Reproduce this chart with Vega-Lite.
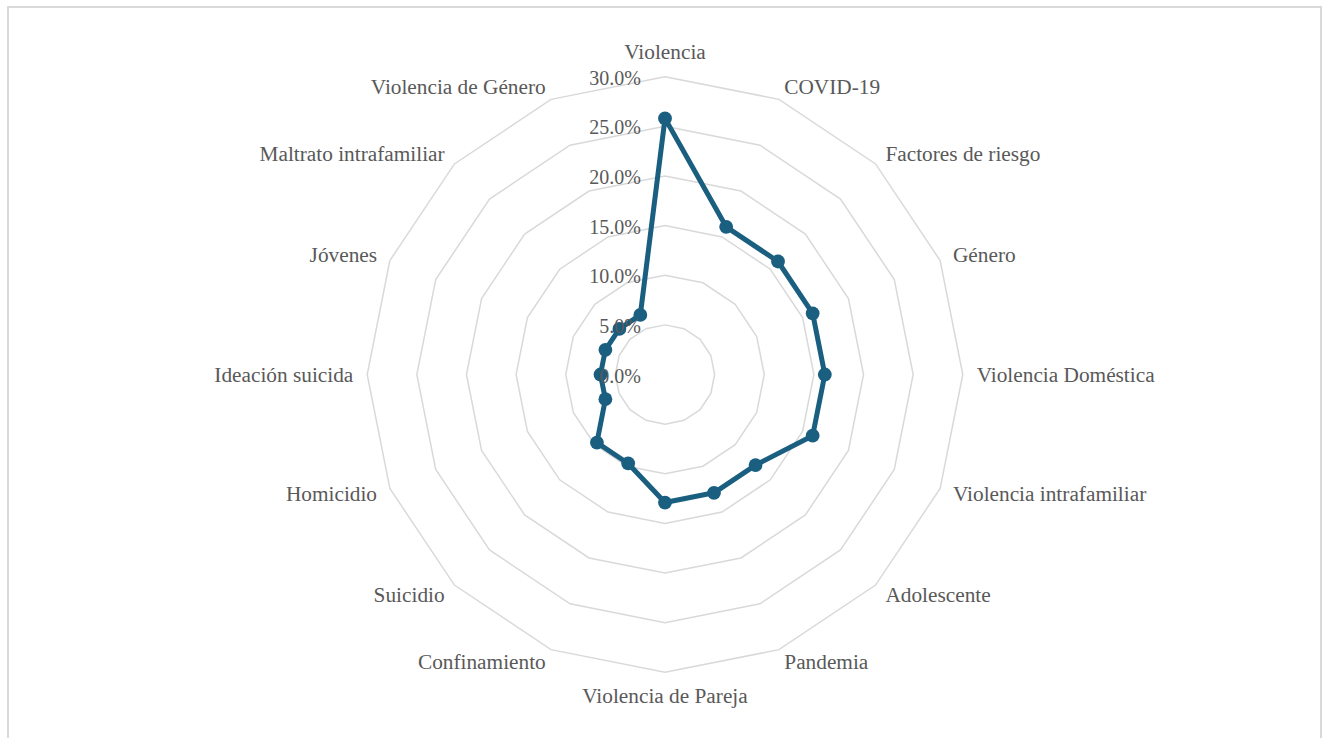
{
  "$schema": "https://vega.github.io/schema/vega-lite/v6.json",
  "width": 1313,
  "height": 733,
  "autosize": {"type": "none"},
  "padding": {"left": 8, "top": 7, "right": 2, "bottom": -2},
  "background": "white",
  "config": {"view": {"stroke": "#d9d9d9", "strokeWidth": 2}},
  "datasets": {
    "cats": [
      {"category": "Violencia", "value": 0.258},
      {"category": "COVID-19", "value": 0.161},
      {"category": "Factores de riesgo", "value": 0.161},
      {"category": "Género", "value": 0.161},
      {"category": "Violencia Doméstica", "value": 0.161},
      {"category": "Violencia intrafamiliar", "value": 0.161},
      {"category": "Adolescente", "value": 0.129},
      {"category": "Pandemia", "value": 0.129},
      {"category": "Violencia de Pareja", "value": 0.129},
      {"category": "Confinamiento", "value": 0.097},
      {"category": "Suicidio", "value": 0.097},
      {"category": "Homicidio", "value": 0.065},
      {"category": "Ideación suicida", "value": 0.065},
      {"category": "Jóvenes", "value": 0.065},
      {"category": "Maltrato intrafamiliar", "value": 0.065},
      {"category": "Violencia de Género", "value": 0.065}
    ],
    "levels": [
      {"level": 0}, {"level": 0.05}, {"level": 0.1}, {"level": 0.15},
      {"level": 0.2}, {"level": 0.25}, {"level": 0.3}
    ]
  },
  "encoding": {
    "x": {"field": "x", "type": "quantitative", "scale": {"domain": [-0.66185, 0.66084], "nice": false, "zero": false}, "axis": null},
    "y": {"field": "y", "type": "quantitative", "scale": {"domain": [-0.36819, 0.37021], "nice": false, "zero": false}, "axis": null}
  },
  "layer": [
    {
      "data": {"name": "cats"},
      "transform": [
        {"window": [{"op": "row_number", "as": "rn"}]},
        {"calculate": "datum.rn == 1 ? [0, 16] : [datum.rn - 1]", "as": "ks"},
        {"flatten": ["ks"]},
        {"calculate": "[0.05, 0.1, 0.15, 0.2, 0.25, 0.3]", "as": "lv"},
        {"flatten": ["lv"]},
        {"calculate": "datum.ks * PI / 8", "as": "ang"},
        {"calculate": "datum.lv * sin(datum.ang)", "as": "x"},
        {"calculate": "datum.lv * cos(datum.ang)", "as": "y"}
      ],
      "mark": {"type": "line", "color": "#d9d9d9", "strokeWidth": 1.5},
      "encoding": {
        "detail": {"field": "lv", "type": "nominal"},
        "order": {"field": "ks", "type": "quantitative"}
      }
    },
    {
      "data": {"name": "cats"},
      "transform": [
        {"window": [{"op": "row_number", "as": "rn"}]},
        {"calculate": "datum.rn == 1 ? [0, 16] : [datum.rn - 1]", "as": "ks"},
        {"flatten": ["ks"]},
        {"calculate": "datum.ks * PI / 8", "as": "ang"},
        {"calculate": "datum.value * sin(datum.ang)", "as": "x"},
        {"calculate": "datum.value * cos(datum.ang)", "as": "y"}
      ],
      "mark": {"type": "line", "color": "#1a5e80", "strokeWidth": 5, "strokeJoin": "round"},
      "encoding": {
        "order": {"field": "ks", "type": "quantitative"}
      }
    },
    {
      "data": {"name": "cats"},
      "transform": [
        {"window": [{"op": "row_number", "as": "rn"}]},
        {"calculate": "(datum.rn - 1) * PI / 8", "as": "ang"},
        {"calculate": "datum.value * sin(datum.ang)", "as": "x"},
        {"calculate": "datum.value * cos(datum.ang)", "as": "y"}
      ],
      "mark": {"type": "circle", "color": "#1a5e80", "size": 190, "opacity": 1}
    },
    {
      "data": {"name": "cats"},
      "transform": [
        {"window": [{"op": "row_number", "as": "rn"}]},
        {"calculate": "(datum.rn - 1) * PI / 8", "as": "ang"},
        {"calculate": "0.314 * sin(datum.ang)", "as": "x"},
        {"calculate": "0.314 * cos(datum.ang)", "as": "y"}
      ],
      "layer": [
        {
          "transform": [{"filter": "datum.rn >= 2 && datum.rn <= 8"}],
          "mark": {"type": "text", "align": "left", "baseline": "middle", "dy": 1, "font": "Liberation Serif", "fontSize": 21.3, "color": "#595959"},
          "encoding": {"text": {"field": "category"}}
        },
        {
          "transform": [{"filter": "datum.rn >= 10"}],
          "mark": {"type": "text", "align": "right", "baseline": "middle", "dy": 1, "font": "Liberation Serif", "fontSize": 21.3, "color": "#595959"},
          "encoding": {"text": {"field": "category"}}
        },
        {
          "transform": [{"filter": "datum.rn == 1"}],
          "mark": {"type": "text", "align": "center", "baseline": "bottom", "font": "Liberation Serif", "fontSize": 21.3, "color": "#595959"},
          "encoding": {"text": {"field": "category"}}
        },
        {
          "transform": [{"filter": "datum.rn == 9"}],
          "mark": {"type": "text", "align": "center", "baseline": "top", "font": "Liberation Serif", "fontSize": 21.3, "color": "#595959"},
          "encoding": {"text": {"field": "category"}}
        }
      ]
    },
    {
      "data": {"name": "levels"},
      "transform": [
        {"calculate": "0", "as": "x"},
        {"calculate": "datum.level", "as": "y"}
      ],
      "mark": {"type": "text", "align": "right", "baseline": "middle", "dx": -24, "dy": 2, "font": "Liberation Serif", "fontSize": 20, "color": "#595959"},
      "encoding": {"text": {"field": "level", "type": "quantitative", "format": ".1%"}}
    }
  ]
}
